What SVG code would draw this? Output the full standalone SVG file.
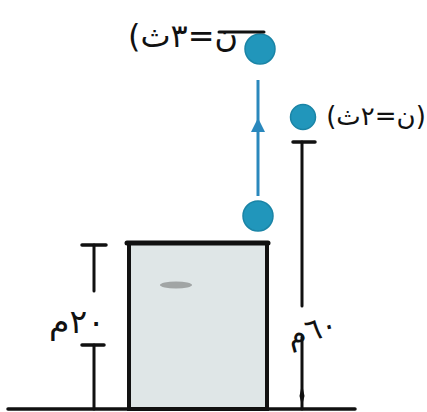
<svg xmlns="http://www.w3.org/2000/svg" width="427" height="412" viewBox="0 0 427 412">
<style>
.ink{stroke:#111;fill:none;stroke-linecap:round}
.ball{fill:#2196bb;stroke:#1a84a6;stroke-width:1.5}
.lbl{font-family:"DejaVu Sans","Noto Sans",sans-serif;fill:#111;direction:rtl;unicode-bidi:embed}
</style>
<rect width="427" height="412" fill="#fff"/>
<g id="ground"><line class="ink" x1="8" y1="409" x2="355" y2="409" stroke-width="3.5"/></g>
<g id="block">
<rect x="129" y="243" width="138" height="166" fill="#dfe6e7" stroke="#111" stroke-width="4"/>
<line class="ink" x1="127" y1="243" x2="268" y2="243" stroke-width="5"/>
<ellipse cx="176" cy="285" rx="16" ry="3.5" fill="#444" opacity="0.4"/>
</g>
<g id="ball-top"><circle class="ball" cx="260" cy="49" r="15"/></g>
<g id="ball-mid"><circle class="ball" cx="303" cy="117" r="12.5"/></g>
<g id="ball-bottom"><circle class="ball" cx="258" cy="216" r="15"/></g>
<g id="label-top">
<text class="lbl" x="183" y="47" font-size="32" text-anchor="middle">ن=٣ث)</text>
<line class="ink" x1="219" y1="32" x2="264" y2="32" stroke-width="3"/>
</g>
<g id="label-mid"><text class="lbl" x="376" y="125" font-size="26" text-anchor="middle">(ن=٢ث)</text></g>
<g id="connectors">
<line x1="258" y1="196" x2="258" y2="80" stroke="#2a88bd" stroke-width="3"/>
<path d="M258 118 L265 132 L251 132 Z" fill="#2a88bd"/>
</g>
<g id="dim-left">
<line class="ink" x1="82" y1="245" x2="106" y2="245" stroke-width="3.5"/>
<line class="ink" x1="94" y1="245" x2="94" y2="291" stroke-width="3"/>
<line class="ink" x1="82" y1="345" x2="104" y2="345" stroke-width="3.5"/>
<line class="ink" x1="94" y1="345" x2="94" y2="409" stroke-width="3"/>
<text class="lbl" x="77" y="333" font-size="33" text-anchor="middle">٢٠م</text>
</g>
<g id="dim-right">
<line class="ink" x1="293" y1="142" x2="315" y2="142" stroke-width="3.5"/>
<line class="ink" x1="302" y1="142" x2="302" y2="306" stroke-width="3"/>
<line class="ink" x1="302" y1="337" x2="302" y2="409" stroke-width="3"/>
<path d="M302 384 L304.5 396 L302 406 L299.5 396 Z" fill="#111"/>
<text class="lbl" x="312" y="340" font-size="30" text-anchor="middle" transform="rotate(-15 312 330)">٦٠م</text>
</g>
</svg>
